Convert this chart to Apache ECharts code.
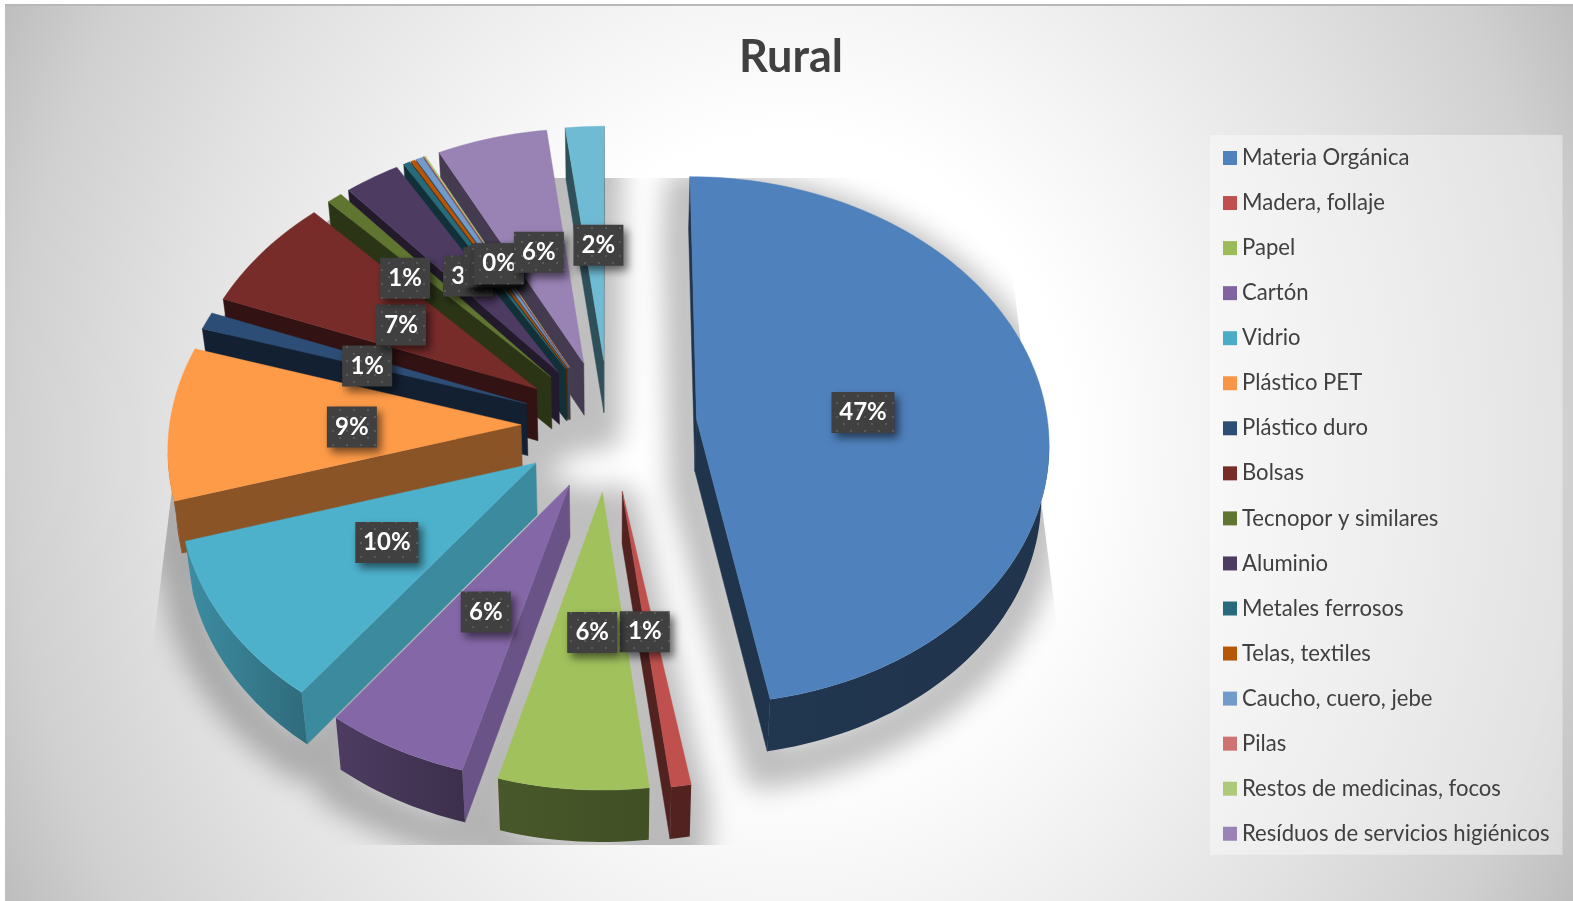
<!DOCTYPE html>
<html>
<head>
<meta charset="utf-8">
<title>Rural</title>
<script src="https://cdn.jsdelivr.net/npm/echarts@6/dist/echarts.min.js"></script>
<style>
  html, body { margin: 0; padding: 0; background: #fff; overflow: hidden; }
  #frame { position: absolute; left: 5px; top: 4px; width: 1568px; height: 897px;
    border-top: 2px solid #b8b8b8; box-sizing: border-box;
    background: radial-gradient(ellipse 880px 980px at 785px 444px, #fff 0%, #fff 32%, #f5f5f5 46%, #e2e2e2 70%, #d0d0d0 89%, #bebebe 100%); }
  #chart { position: absolute; left: 0; top: 0; width: 1573px; height: 901px; }
</style>
</head>
<body>
<div id="frame"></div>
<div id="chart"></div>
<script>
var titleText = 'Rural';
var categories = ['Materia Orgánica', 'Madera, follaje', 'Papel', 'Cartón', 'Vidrio', 'Plástico PET',
  'Plástico duro', 'Bolsas', 'Tecnopor y similares', 'Aluminio', 'Metales ferrosos', 'Telas, textiles',
  'Caucho, cuero, jebe', 'Pilas', 'Restos de medicinas, focos', 'Resíduos de servicios higiénicos', 'Otros'];
var values = [47.22, 0.83, 6.25, 6.0, 10.11, 9.36, 1.08, 7.06, 0.78, 2.81, 0.33, 0.22, 0.35, 0.02, 0.08, 5.56, 1.94];
var colors = ['#4F81BD', '#C0504D', '#9BBB59', '#8064A2', '#4BACC6', '#F79646', '#2C4D75', '#772C2A',
  '#5F7530', '#4D3B62', '#276A7C', '#B65708', '#729ACA', '#CD7371', '#AFC97A', '#9983B5', '#6FBBD3'];
var legendNames = categories.slice(0, 16);

// how dark or bright the faces get, per slice
var topShade = [1, 1, 1.03, 1.03, 1.03, 1.03, 1, 1, 1, 1, 1, 1, 1, 1, 1, 1, 1];
var rimLeft = [0.42, 0.42, 0.47, 0.6, 0.82, 0.56, 0.4, 0.4, 0.4, 0.4, 0.4, 0.4, 0.4, 0.4, 0.4, 0.45, 0.42];
var rimRight = [0.4, 0.42, 0.42, 0.47, 0.62, 0.56, 0.4, 0.4, 0.4, 0.4, 0.4, 0.4, 0.4, 0.4, 0.4, 0.45, 0.42];
var wallShade = [0.4, 0.42, 0.45, 0.83, 0.8, 0.56, 0.42, 0.42, 0.45, 0.45, 0.45, 0.45, 0.45, 0.45, 0.45, 0.45, 0.42];

// fake 3D projection of the exploded pie
var cx = 609, cy = 425, radius = 351.5, explode = 88;
var tilt = 0.748, persp = 0.08, depth = 52, shrink = 0.982;
var startAngle = 0;
var labelAt = 0.47;
// data labels sit where they were dragged in the original
var labelShift = [[3, 4], [-4, 8], [3, 7], [-5, 8], [-7, 6], [-4, 3], [-7, 2], [-4, 2], [-41, -12], [0, -2], [0, -1], [0, -1], [0, -1], [0, -1], [0, -1], [0, -1], [4, -1]];

var total = values.reduce(function (a, b) { return a + b; }, 0);
var ranges = [];
var acc = startAngle;
values.forEach(function (v) {
  var sweep = v / total * 360;
  ranges.push({ from: acc, to: acc + sweep, mid: acc + sweep / 2 });
  acc += sweep;
});

function rad(d) { return d * Math.PI / 180; }

function project(i, r, angle) {
  var m = rad(ranges[i].mid), a = rad(angle);
  var X = explode * Math.sin(m) + r * Math.sin(a);
  var Y = -explode * Math.cos(m) - r * Math.cos(a);
  var f = 1 / (1 - persp * Y / radius);
  return [cx + X * f, cy + Y * tilt * f];
}

function lower(p) {
  return [cx + (p[0] - cx) * shrink, p[1] + depth];
}

function arcPoints(i) {
  var pts = [];
  var n = Math.max(2, Math.ceil((ranges[i].to - ranges[i].from) / 1.5));
  for (var k = 0; k <= n; k++) {
    pts.push(project(i, radius, ranges[i].from + (ranges[i].to - ranges[i].from) * k / n));
  }
  return pts;
}

function shade(hex, s) {
  var n = parseInt(hex.slice(1), 16);
  return 'rgb(' + Math.min(255, Math.round((n >> 16) * s)) + ',' + Math.min(255, Math.round(((n >> 8) & 255) * s)) + ',' + Math.min(255, Math.round((n & 255) * s)) + ')';
}

function wallPolygon(a, b, fill) {
  return { type: 'polygon', shape: { points: [a, b, lower(b), lower(a)] },
    style: { fill: fill, stroke: fill, lineWidth: 0.5 } };
}

function renderSlice(i) {
  var apex = project(i, 0, 0);
  var arc = arcPoints(i);
  var children = [];
  var wallFill = shade(colors[i], wallShade[i]);
  var topFill = shade(colors[i], topShade[i]);

  // only side faces turned to the viewer, the top covers the rest
  if (arc[0][0] < apex[0]) children.push(wallPolygon(apex, arc[0], wallFill));
  if (apex[0] < arc[arc.length - 1][0]) children.push(wallPolygon(arc[arc.length - 1], apex, wallFill));

  var rimTop = arc.filter(function (p, k) {
    return (k > 0 && p[0] <= arc[k - 1][0]) || (k < arc.length - 1 && arc[k + 1][0] <= p[0]);
  });
  if (rimTop.length > 1) {
    var rimFill = new echarts.graphic.LinearGradient(0, 0, 1, 0, [
      { offset: 0, color: shade(colors[i], rimLeft[i]) },
      { offset: 1, color: shade(colors[i], rimRight[i]) }
    ]);
    children.push({ type: 'polygon',
      shape: { points: rimTop.concat(rimTop.slice().reverse().map(lower)) },
      style: { fill: rimFill } });
  }

  children.push({ type: 'polygon', shape: { points: [apex].concat(arc) },
    style: { fill: topFill, stroke: topFill, lineWidth: 0.4 } });
  return { type: 'group', children: children };
}

function convexHull(points) {
  var pts = points.slice().sort(function (a, b) { return a[0] - b[0] || a[1] - b[1]; });
  function cross(o, a, b) { return (a[0] - o[0]) * (b[1] - o[1]) - (a[1] - o[1]) * (b[0] - o[0]); }
  var lowerSide = [], upperSide = [];
  pts.forEach(function (p) {
    while (lowerSide.length > 1 && cross(lowerSide[lowerSide.length - 2], lowerSide[lowerSide.length - 1], p) <= 0) lowerSide.pop();
    lowerSide.push(p);
  });
  pts.slice().reverse().forEach(function (p) {
    while (upperSide.length > 1 && cross(upperSide[upperSide.length - 2], upperSide[upperSide.length - 1], p) <= 0) upperSide.pop();
    upperSide.push(p);
  });
  return lowerSide.slice(0, -1).concat(upperSide.slice(0, -1));
}

// one shadow for the whole pie so the slices do not darken each other.
// the path itself is parked off canvas, only its shadow lands on the chart
var offCanvas = 3000;
function renderShadow() {
  var pathData = '';
  values.forEach(function (v, i) {
    var top = [project(i, 0, 0)].concat(arcPoints(i));
    var hull = convexHull(top.concat(top.map(lower)));
    pathData += 'M' + hull.map(function (p) { return p[0].toFixed(1) + ' ' + p[1].toFixed(1); }).join('L') + 'Z';
  });
  return {
    type: 'group',
    // the shadow falls on a floor seen in perspective, cut off behind the back slices
    clipPath: { type: 'polygon', shape: { points: [[430, 178], [1000, 178], [1085, 845], [128, 845], [172, 490], [210, 335], [235, 300], [335, 215]] } },
    children: [{ type: 'path', x: -offCanvas, shape: { pathData: pathData },
      style: { fill: 'none', stroke: '#000', lineWidth: 44, lineJoin: 'round',
        shadowBlur: 26, shadowColor: 'rgba(0,0,0,0.25)', shadowOffsetX: offCanvas - 4, shadowOffsetY: 16 } }]
  };
}

// dotted fill of the data label boxes
var dots = document.createElement('canvas');
dots.width = 14; dots.height = 14;
var dc = dots.getContext('2d');
dc.fillStyle = '#404040'; dc.fillRect(0, 0, 14, 14);
dc.fillStyle = '#5a5a5a';
dc.fillRect(3, 3, 2, 2); dc.fillRect(10, 10, 2, 2);

function renderLabel(params, api) {
  var i = params.dataIndex;
  var p = project(i, radius * labelAt, ranges[i].mid);
  var text = Math.round(api.value(0) / total * 100) + '%';
  var x = p[0] + labelShift[i][0], y = p[1] + labelShift[i][1];
  var w = text.length > 2 ? 63 : 50, h = 41;
  return {
    type: 'group',
    children: [
      { type: 'rect', shape: { x: x - w / 2, y: y - h / 2, width: w, height: h },
        style: { fill: { image: dots, repeat: 'repeat' }, shadowBlur: 8, shadowColor: 'rgba(0,0,0,0.55)', shadowOffsetX: 4, shadowOffsetY: 5 } },
      { type: 'text', x: x, y: y,
        style: { text: text, fill: '#fff', align: 'center', verticalAlign: 'middle',
          font: 'bold 24px Lato' } }
    ]
  };
}

var paintOrder = values.map(function (v, i) { return i; }).sort(function (a, b) {
  return -Math.cos(rad(ranges[b].mid)) < -Math.cos(rad(ranges[a].mid)) ? 1 : -1;
});

var series = [{
  type: 'custom', name: 'shadow', coordinateSystem: 'none', z: 1, silent: true,
  data: [[total]], renderItem: renderShadow
}];
paintOrder.forEach(function (i, order) {
  series.push({
    type: 'custom', name: categories[i], coordinateSystem: 'none', z: 2 + order * 0.01, silent: true,
    itemStyle: { color: colors[i] },
    data: [[values[i]]],
    renderItem: function () { return renderSlice(i); }
  });
});
series.push({
  type: 'custom', name: 'labels', coordinateSystem: 'none', z: 10, silent: true,
  data: values.map(function (v) { return [v]; }), renderItem: renderLabel
});

var myChart = echarts.init(document.getElementById('chart'), null, { renderer: 'canvas' });
myChart.setOption({
  animation: false,
  backgroundColor: 'transparent',
  title: {
    text: titleText, left: 786, top: 30, textAlign: 'center',
    textStyle: { fontFamily: 'Lato', fontWeight: 'bold', fontSize: 45, color: '#404040' }
  },
  legend: {
    orient: 'vertical', left: 1210, top: 135, data: legendNames, icon: 'rect',
    itemWidth: 14, itemHeight: 14, itemGap: 23.05, padding: [12, 13, 10, 13],
    backgroundColor: 'rgba(255,255,255,0.4)',
    selectedMode: false,
    textStyle: { fontFamily: 'Lato', fontSize: 22.1, color: '#404040' }
  },
  series: series
});
window.addEventListener('resize', myChart.resize);
</script>
</body>
</html>
